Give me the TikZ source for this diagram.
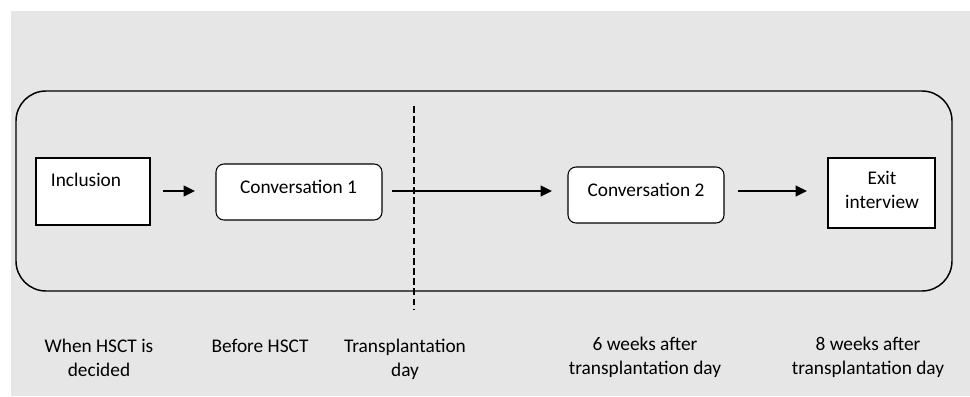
\documentclass[tikz,border=0pt]{standalone}
\usepackage{fontspec}
\setmainfont{Carlito}
\usetikzlibrary{arrows.meta,calc}
\definecolor{bgcol}{HTML}{E6E6E6}
\tikzset{
  box/.style={draw=black, fill=white, line width=0.8pt, inner sep=0pt, outer sep=0pt},
  rbox/.style={box, rounded corners=6pt},
  frame/.style={draw=black, line width=1.1pt, rounded corners=22.5pt, inner sep=0pt, outer sep=0pt, minimum width=702pt, minimum height=150pt},
  txt/.style={font=\fontsize{14.5pt}{17.3pt}\selectfont, inner sep=0pt, anchor=base, align=center},
  lbl/.style={font=\fontsize{14.5pt}{18pt}\selectfont, inner sep=0pt, anchor=base, align=center},
  arr/.style={line width=1.3pt, -{Triangle[length=8.5pt,width=8pt]}},
  timeline/.style={line width=0.9pt, dash pattern=on 5pt off 2.6pt}
}
\begin{document}
\begin{tikzpicture}[x=0.75pt,y=-0.75pt]
\useasboundingbox (0,0) rectangle (970,396);
\fill[bgcol] (11,11) rectangle (970,396);
\node[frame] (frame) at (484,191) {};
\node[box, minimum width=85.5pt, minimum height=50.25pt] (incl) at (93,191.5) {};
\node[rbox, minimum width=124.5pt, minimum height=42pt] (conv1) at (299,192) {};
\node[rbox, minimum width=117pt, minimum height=42pt] (conv2) at (646,195) {};
\node[box, minimum width=80.25pt, minimum height=52.5pt] (exit) at (881.5,193) {};
\node[txt] (inclt) at (86,186) {Inclusion};
\node[txt] (conv1t) at (298.5,193) {Conversation 1};
\node[txt] (conv2t) at (646,196.5) {Conversation 2};
\node[txt] (exitt) at (882,208) {Exit\\interview};
\coordinate (dtop) at (414,106);
\coordinate (dbot) at (414,310);
\draw[timeline] (dtop) -- (dbot);
\draw[arr] ([xshift=9.75pt,yshift=0.4pt]incl.east) -- ([xshift=-15.75pt,yshift=0.4pt]incl.east -| conv1.west);
\draw[arr] ([xshift=7.5pt,yshift=0.75pt]conv1.east) -- ([xshift=-12pt,yshift=0.75pt]conv1.east -| conv2.west);
\draw[arr] ([xshift=10.5pt,yshift=3pt]conv2.east) -- ([xshift=-15.75pt,yshift=3pt]conv2.east -| exit.west);
\node[lbl] (l1) at (99,376) {When HSCT is\\decided};
\node[lbl] (l2) at (260,352) {Before HSCT};
\node[lbl] (l3) at (405,376) {Transplantation\\day};
\node[lbl] (l4) at (645,374) {6 weeks after\\transplantation day};
\node[lbl] (l5) at (868,374) {8 weeks after\\transplantation day};
\end{tikzpicture}
\end{document}
